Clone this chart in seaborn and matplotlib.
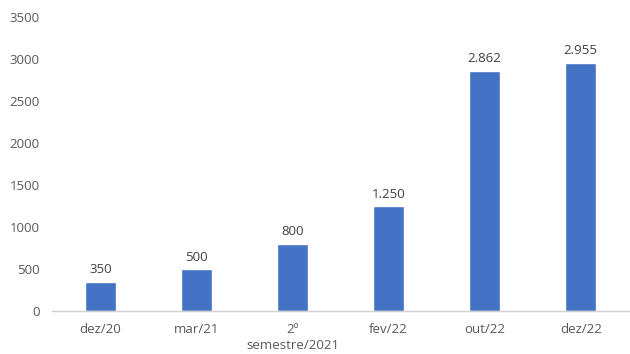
import matplotlib
matplotlib.use("Agg")
import matplotlib.pyplot as plt
import seaborn as sns
import pandas as pd

periods = ["dez/20", "mar/21", "2º\nsemestre/2021", "fev/22", "out/22", "dez/22"]
values = [350, 500, 800, 1250, 2862, 2955]
y_ticks = [0, 500, 1000, 1500, 2000, 2500, 3000, 3500]

df = pd.DataFrame({"periodo": periods, "valor": values})

sns.set_theme(style="white")
plt.rcParams["font.family"] = ["Open Sans", "DejaVu Sans"]

fig = plt.figure(figsize=(6.3, 3.54), dpi=100)
ax = fig.add_axes([0.083, 0.121, 0.915, 0.831])

sns.barplot(data=df, x="periodo", y="valor", color="#4472C4", width=0.32,
            saturation=1, ax=ax)

ax.set_ylim(0, 3500)
ax.set_yticks(y_ticks)
ax.set_yticklabels([str(t) for t in y_ticks])
ax.set_xlim(-0.5, len(periods) - 0.5)
ax.set_xlabel("")
ax.set_ylabel("")

for i, v in enumerate(values):
    label = f"{v:,}".replace(",", ".")
    ax.annotate(label, (i, v), xytext=(0, 4), textcoords="offset points",
                ha="center", va="bottom", fontsize=9.5, color="#404040")

for s in ["top", "right", "left"]:
    ax.spines[s].set_visible(False)
ax.spines["bottom"].set_color("#d0d0d0")
ax.spines["bottom"].set_linewidth(1)
ax.tick_params(axis="both", length=0, labelsize=9.5, colors="#595959")
ax.tick_params(axis="y", pad=9)
ax.tick_params(axis="x", pad=8.5)
for t in ax.get_xticklabels():
    t.set_linespacing(1.35)
ax.grid(False)

fig.savefig("out.png", dpi=100)
